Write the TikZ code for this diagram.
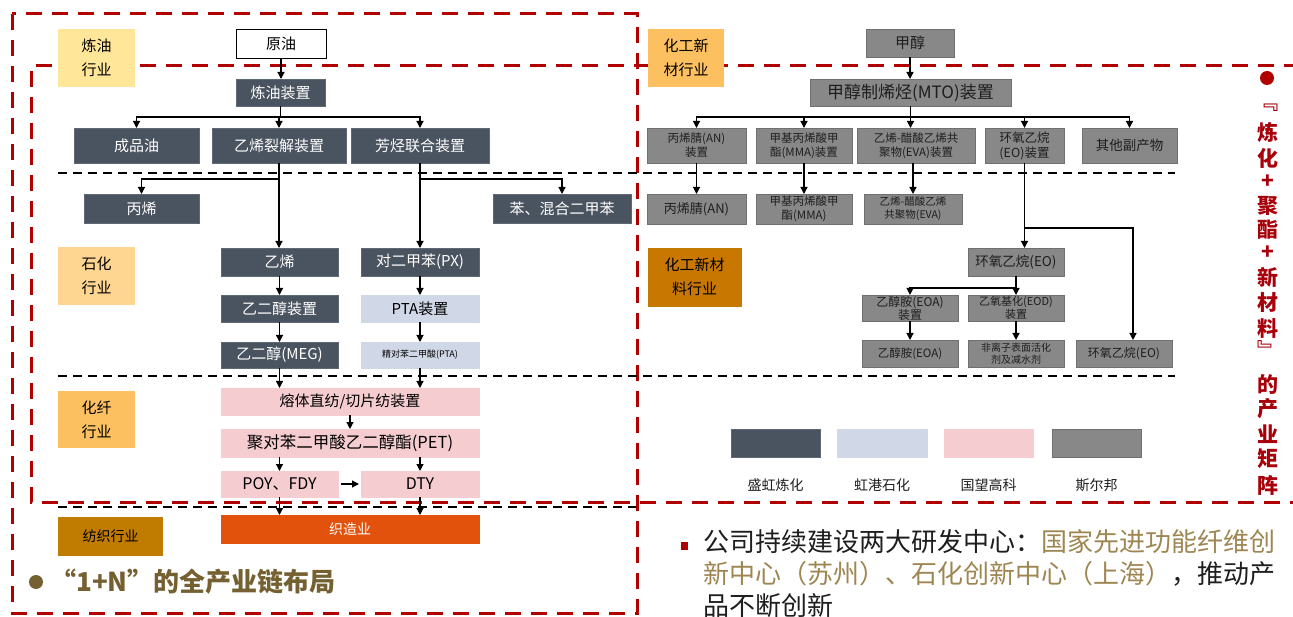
\documentclass[tikz,border=0pt]{standalone}
\usepackage{fontspec}
\setmainfont{Noto Sans CJK SC}
\usetikzlibrary{arrows.meta}
\definecolor{dkc}{RGB}{74,84,96}
\definecolor{dkd}{RGB}{95,104,116}
\definecolor{lbc}{RGB}{208,216,232}
\definecolor{pkc}{RGB}{245,205,208}
\definecolor{gyc}{RGB}{136,136,136}
\definecolor{gyd}{RGB}{112,112,112}
\definecolor{orc}{RGB}{226,82,12}
\definecolor{cyel}{RGB}{255,230,153}
\definecolor{cor1}{RGB}{255,214,145}
\definecolor{cor2}{RGB}{252,192,96}
\definecolor{cbr}{RGB}{192,124,0}
\definecolor{cbr2}{RGB}{200,120,0}
\definecolor{redc}{RGB}{176,0,0}
\definecolor{vred}{RGB}{168,0,10}
\definecolor{khak}{RGB}{158,134,82}
\definecolor{olv}{RGB}{116,96,48}
\definecolor{txd}{RGB}{30,30,30}
\newcommand\bx[7]{\node[#1,minimum width={#5-#3},minimum height={#6-#4}] (#2) at ({(#3+#5)/2},{(#4+#6)/2}) {#7};}
\begin{document}
\begin{tikzpicture}[x=1pt,y=-1pt,
  bb/.style={rectangle,inner sep=1pt,outer sep=0pt,align=center,line width=0.6pt},
  wbx/.style={bb,draw=black,fill=white,text=black,font=\fontsize{15}{17}\selectfont},
  dkb/.style={bb,draw=dkd,fill=dkc,text=white,font=\fontsize{15}{17}\selectfont},
  lbb/.style={bb,draw=lbc,fill=lbc,text=black,font=\fontsize{15}{17}\selectfont},
  pkb/.style={bb,draw=pkc,fill=pkc,text=black,font=\fontsize{15}{17}\selectfont},
  orb/.style={bb,draw=orc,fill=orc,text=white,font=\fontsize{14}{16}\selectfont},
  gyb/.style={bb,draw=gyd,fill=gyc,text=txd,font=\fontsize{15}{17}\selectfont},
  gys/.style={bb,draw=gyd,fill=gyc,text=txd,font=\fontsize{11.5}{14}\selectfont},
  lab/.style={bb,text=black,font=\fontsize{15}{24}\selectfont},
  lgt/.style={font=\fontsize{14}{16}\selectfont,text=txd},
  vt/.style={font=\bfseries\fontsize{21}{22}\selectfont,text=vred,inner sep=0pt},
  arr/.style={-{Triangle[length=7pt,width=7pt]},line width=1.2pt,black},
  rdash/.style={draw=redc,line width=3pt,dash pattern=on 16pt off 10pt},
  bdash/.style={draw=black,line width=2.2pt,dash pattern=on 9pt off 6pt}]
\useasboundingbox (0,0) rectangle (1293,617);

% red dashed frames
\draw[rdash] (12,14) rectangle (637,613);
\draw[rdash] (1300,66) -- (31,66) -- (31,502) -- (1300,502);
% black dashed separators
\draw[bdash] (58,173) -- (1175,173);
\draw[bdash] (58,376) -- (1175,376);
\draw[bdash] (58,507) -- (636,507);

% industry labels
\bx{lab,fill=cyel}{l1}{58}{29}{135}{87}{炼油\\行业}
\bx{lab,fill=cor1}{l2}{58}{247}{135}{305}{石化\\行业}
\bx{lab,fill=cor2}{l3}{58}{391}{135}{448}{化纤\\行业}
\bx{lab,fill=cbr,font=\fontsize{14}{16}\selectfont}{l4}{58}{517}{163}{556}{纺织行业}
\bx{lab,fill=cor2}{r1}{648}{29}{724}{87}{化工新\\材行业}
\bx{lab,fill=cbr2,draw=cbr}{r2}{648}{248}{741}{306}{化工新材\\料行业}

% left chain
\bx{wbx}{yy}{236}{29}{326}{58}{原油}
\bx{dkb}{lyzz}{236}{79}{325}{106}{炼油装置}
\bx{dkb}{cpy}{74}{128}{199}{163}{成品油}
\bx{dkb}{yxlj}{212}{128}{346}{163}{乙烯裂解装置}
\bx{dkb}{fth}{351}{128}{489}{163}{芳烃联合装置}
\bx{dkb}{bxi}{84}{194}{199}{223}{丙烯}
\bx{dkb}{ben}{493}{194}{631}{223}{苯、混合二甲苯}
\bx{dkb}{yx}{221}{248}{338}{276}{乙烯}
\bx{dkb}{px}{361}{248}{479}{276}{对二甲苯(PX)}
\bx{dkb}{egz}{221}{295}{338}{322}{乙二醇装置}
\bx{lbb}{ptaz}{361}{295}{479}{322}{PTA装置}
\bx{dkb}{meg}{221}{342}{338}{368}{乙二醇(MEG)}
\bx{lbb,font=\fontsize{9}{10}\selectfont}{pta}{361}{342}{479}{368}{精对苯二甲酸(PTA)}
\bx{pkb}{rt}{221}{388}{479}{415}{熔体直纺/切片纺装置}
\bx{pkb,font=\fontsize{16.5}{18}\selectfont}{pet}{221}{429}{479}{457}{聚对苯二甲酸乙二醇酯(PET)}
\bx{pkb,font=\fontsize{16}{18}\selectfont}{poy}{221}{471}{338}{497}{POY、FDY}
\bx{pkb,font=\fontsize{16}{18}\selectfont}{dty}{361}{471}{479}{497}{DTY}
\bx{orb}{zz}{221}{515}{479}{543}{织造业}

\coordinate (j1) at (280.5,117);
\coordinate (j2) at (279,179);
\coordinate (j3) at (420,179);
\draw[arr] (yy.south) -- (yy.south |- lyzz.north);
\draw[arr] (lyzz.south) -- (j1) -| (cpy.north);
\draw[arr] (j1) -| (yxlj.north);
\draw[arr] (j1) -| (fth.north);
\draw[arr] (yxlj.south) -- (yxlj.south |- yx.north);
\draw[arr] (j2) -| (bxi.north);
\draw[arr] (fth.south) -- (fth.south |- px.north);
\draw[arr] (j3) -| (ben.north);
\draw[arr] (yx.south) -- (egz.north);
\draw[arr] (egz.south) -- (meg.north);
\draw[arr] (px.south) -- (ptaz.north);
\draw[arr] (ptaz.south) -- (pta.north);
\draw[arr] (meg.south) -- (meg.south |- rt.north);
\draw[arr] (pta.south) -- (pta.south |- rt.north);
\draw[arr] (rt.south) -- (pet.north);
\draw[arr] (pet.south -| poy.north) -- (poy.north);
\draw[arr] (pet.south -| dty.north) -- (dty.north);
\draw[arr,shorten <=3pt,shorten >=2pt] (poy.east) -- (dty.west);
\draw[arr] (poy.south) -- (poy.south |- zz.north);
\draw[arr] (dty.south) -- (dty.south |- zz.north);

% right chain
\bx{gyb}{jc}{866}{29}{954}{57}{甲醇}
\bx{gyb,font=\fontsize{17}{19}\selectfont}{mto}{810}{79}{1011}{106}{甲醇制烯烃(MTO)装置}
\bx{gys}{anz}{647}{128}{746}{163}{丙烯腈(AN)\\装置}
\bx{gys}{mmaz}{756}{128}{852}{163}{甲基丙烯酸甲\\酯(MMA)装置}
\bx{gys}{evaz}{857}{128}{975}{163}{乙烯-醋酸乙烯共\\聚物(EVA)装置}
\bx{gys,font=\fontsize{12.5}{15}\selectfont}{eoz}{985}{128}{1064}{163}{环氧乙烷\\(EO)装置}
\bx{gys,font=\fontsize{13.5}{15}\selectfont}{qt}{1082}{128}{1177}{163}{其他副产物}
\bx{gys,font=\fontsize{13}{15}\selectfont}{an}{647}{194}{746}{224}{丙烯腈(AN)}
\bx{gys}{mma}{756}{194}{852}{224}{甲基丙烯酸甲\\酯(MMA)}
\bx{gys,font=\fontsize{10.5}{13}\selectfont}{eva}{864}{194}{962}{224}{乙烯-醋酸乙烯\\共聚物(EVA)}
\bx{gys,font=\fontsize{13.5}{15}\selectfont}{eo1}{968}{248}{1064}{276}{环氧乙烷(EO)}
\bx{gys,font=\fontsize{12}{13}\selectfont}{eoaz}{862}{295}{958}{321}{乙醇胺(EOA)\\装置}
\bx{gys,font=\fontsize{11}{13}\selectfont}{eodz}{968}{295}{1064}{321}{乙氧基化(EOD)\\装置}
\bx{gys,font=\fontsize{11.5}{13}\selectfont}{eoa}{862}{340}{958}{367}{乙醇胺(EOA)}
\bx{gys,font=\fontsize{10}{12}\selectfont}{fly}{968}{340}{1064}{367}{非离子表面活化\\剂及减水剂}
\bx{gys,font=\fontsize{12}{13}\selectfont}{eo3}{1076}{340}{1172}{367}{环氧乙烷(EO)}

\coordinate (k1) at (910.5,117);
\coordinate (k2) at (1133,228);
\coordinate (k3) at (1016,288);
\draw[arr] (jc.south) -- (jc.south |- mto.north);
\draw[arr] (mto.south) -- (k1) -| (anz.north);
\draw[arr] (k1) -| (mmaz.north);
\draw[arr] (k1) -- (k1 |- evaz.north);
\draw[arr] (k1) -| (eoz.north);
\draw[arr] (k1) -| (qt.north);
\draw[arr] (anz.south) -- (an.north);
\draw[arr] (mmaz.south) -- (mma.north);
\draw[arr] (evaz.south -| eva.north) -- (eva.north);
\draw[arr] (eoz.south) -- (eoz.south |- eo1.north);
\draw[arr] (eoz.south |- k2) -- (k2) -- (k2 |- eo3.north);
\draw[arr] (eo1.south) -- (eodz.north);
\draw[arr] (k3) -| (eoaz.north);
\draw[arr] (eoaz.south) -- (eoa.north);
\draw[arr] (eodz.south) -- (fly.north);

% legend
\bx{dkb}{lg1}{731}{429}{820}{457}{}
\bx{lbb}{lg2}{837}{429}{927}{457}{}
\bx{pkb}{lg3}{944}{429}{1033}{457}{}
\bx{gyb}{lg4}{1052}{429}{1141}{457}{}
\path (lg1.south) ++(0,28) node[lgt] (t1) {盛虹炼化};
\path (lg2.south) ++(0,28) node[lgt] (t2) {虹港石化};
\path (lg3.south) ++(0,28) node[lgt] (t3) {国望高科};
\path (lg4.south) ++(0,28) node[lgt] (t4) {斯尔邦};

% bottom left caption
\fill[olv] (36,582) circle (7);
\node[anchor=west,text=olv,font=\bfseries\fontsize{26}{28}\selectfont,inner sep=0pt] (cap) at (50,582) {“1+N”的全产业链布局};

% bottom right paragraph
\node[fill=redc,minimum width=7,minimum height=8,inner sep=0pt] (sq) at (684,546) {};
\node[anchor=west,text=txd,font=\fontsize{26}{30}\selectfont,inner sep=0pt] (p1) at (703,542) {公司持续建设两大研发中心：\textcolor{khak}{国家先进功能纤维创}};
\node[anchor=west,text=txd,font=\fontsize{26}{30}\selectfont,inner sep=0pt] (p2) at (703,574) {\textcolor{khak}{新中心（苏州）、石化创新中心（上海）}，推动产};
\node[anchor=west,text=txd,font=\fontsize{26}{30}\selectfont,inner sep=0pt] (p3) at (703,606) {品不断创新};

% vertical title
\fill[redc] (1267,78) circle (7);
\foreach \c/\yy in {﹃/108,炼/133,化/158,+/182,聚/206,酯/230,+/253,新/277,材/303,料/328,﹄/350,的/385,产/409,业/434,矩/459,阵/485}
  \node[vt] at (1268,\yy) {\c};
\end{tikzpicture}
\end{document}
